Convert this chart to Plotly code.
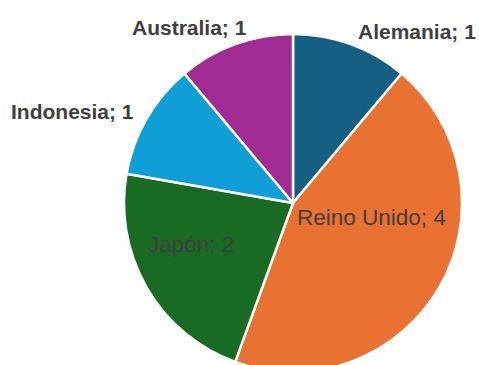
import plotly.graph_objects as go

countries = ["Alemania", "Reino Unido", "Japón", "Indonesia", "Australia"]
counts = [1, 4, 2, 1, 1]
colors = ["#156082", "#E97132", "#196B24", "#0F9ED5", "#A02B93"]

# label placement (pixel centres) and style: layout only
label_px = [(417, 31), (371, 217.5), (191, 244.5), (72.5, 111.5), (189, 27)]
label_bold = [True, False, False, True, True]

W, H = 479, 372
T = 34
cx, r = 293, 169
fig = go.Figure(go.Pie(
    labels=countries,
    values=counts,
    sort=False,
    direction="clockwise",
    rotation=0,
    marker=dict(colors=colors, line=dict(color="white", width=2.5)),
    textinfo="none",
    automargin=False,
    showlegend=False,
    hoverinfo="label+value",
    domain=dict(x=[(cx - r) / W, (cx + r) / W], y=[0, 1]),
))

for name, val, (px, py), bold in zip(countries, counts, label_px, label_bold):
    fig.add_annotation(
        x=px / W, y=(H - py) / (H - T), xref="paper", yref="paper",
        text=f"{name}; {val}", showarrow=False,
        xanchor="center", yanchor="middle",
        font=dict(family="Liberation Sans, Arial", size=21 if bold else 22.5,
                  color="#404040", weight="bold" if bold else "normal"),
    )

fig.update_layout(
    width=W, height=H,
    margin=dict(l=0, r=0, t=T, b=0),
    paper_bgcolor="white",
    plot_bgcolor="white",
)
fig.write_html(
    "out.html",
    post_script="document.documentElement.style.overflow='hidden';document.body.style.overflow='hidden';document.body.style.margin='0';",
)
